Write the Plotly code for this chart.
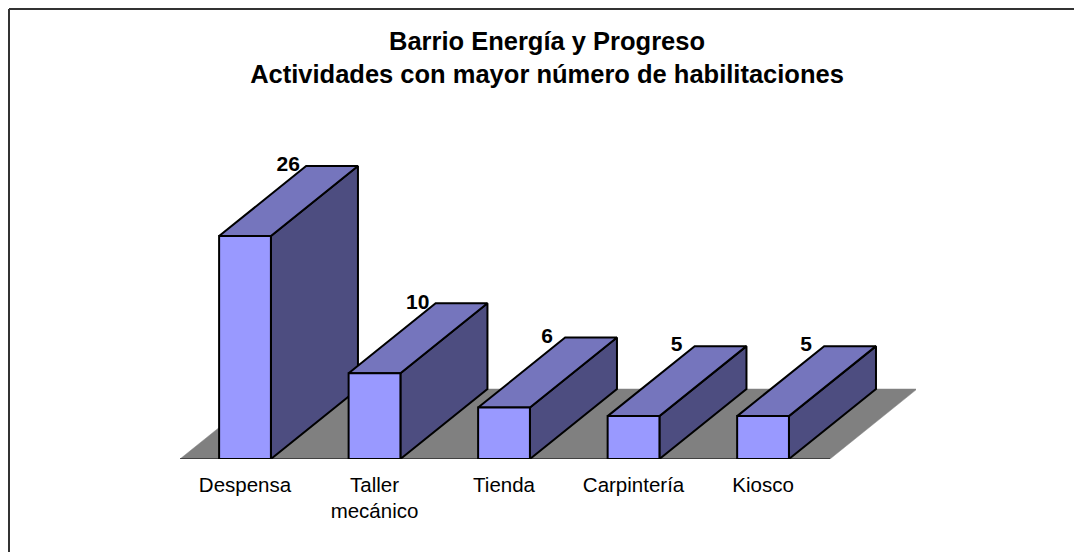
import plotly.graph_objects as go

# ---- data ----
categories = ["Despensa", "Taller<br>mecánico", "Tienda", "Carpintería", "Kiosco"]
values = [26, 10, 6, 5, 5]
title_lines = ["Barrio Energía y Progreso", "Actividades con mayor número de habilitaciones"]

# ---- styling / projection ----
FRONT, TOP, SIDE, FLOOR = "#9999FF", "#7575BD", "#4D4D80", "#808080"
FONT = "Liberation Sans"
W, H = 1074, 552
L, R, T, B = 180, 158, 9, 93
X_RANGE = [-0.502, 5.181]
Y_RANGE = [0, 52.47]
HALF = 0.2           # half bar width in category units
DX, DY = 0.672, 8.16 # oblique depth in axis units
LABEL_SHIFT = 0.139


def poly(xs, ys, fill, line="black", width=2):
    return go.Scatter(
        x=xs + xs[:1], y=ys + ys[:1], mode="lines", fill="toself", fillcolor=fill,
        line=dict(color=line, width=width), hoverinfo="skip", showlegend=False,
        cliponaxis=False,
    )


fig = go.Figure()

# floor
fx0, fx1 = X_RANGE[0], 4.517
fig.add_trace(poly([fx0, fx1, fx1 + DX, fx0 + DX], [0, 0, DY, DY], FLOOR, line=FLOOR, width=0.5))
fig.add_trace(go.Scatter(x=[fx0, fx1], y=[0, 0], mode="lines", line=dict(color="black", width=1),
                         hoverinfo="skip", showlegend=False, cliponaxis=False))

# bars, left to right so each one overlaps the previous
for i, v in enumerate(values):
    x0, x1 = i - HALF, i + HALF
    fig.add_trace(poly([x1, x1 + DX, x1 + DX, x1], [0, DY, v + DY, v], SIDE))
    fig.add_trace(poly([x0, x1, x1 + DX, x0 + DX], [v, v, v + DY, v + DY], TOP))
    fig.add_trace(poly([x0, x1, x1, x0], [0, 0, v, v], FRONT))

# value labels
fig.add_trace(go.Scatter(
    x=[i - HALF + DX - LABEL_SHIFT for i in range(len(values))],
    y=[v + DY for v in values],
    mode="text", text=[str(v) for v in values], textposition="middle center",
    textfont=dict(family=FONT, size=21, color="black", weight="bold"),
    hoverinfo="skip", showlegend=False, cliponaxis=False,
))

fx = lambda px: (px - L) / (W - L - R)
fy = lambda py: 1 - (py - T) / (H - T - B)

fig.update_layout(
    width=W, height=H, margin=dict(l=L, r=R, t=T, b=B, autoexpand=False),
    paper_bgcolor="white", plot_bgcolor="white", showlegend=False,
    font=dict(family=FONT, color="black"),
    title=dict(
        text="<br>".join(title_lines), x=547 / W, xanchor="center", xref="container",
        y=1 - 50 / H, yanchor="top", yref="container", pad=dict(t=0, b=0),
        font=dict(family=FONT, size=25.5, color="black", weight="bold"),
    ),
    xaxis=dict(
        range=X_RANGE, showgrid=False, zeroline=False, showline=False, fixedrange=True,
        tickmode="array", tickvals=list(range(len(categories))), ticktext=categories,
        ticks="outside", ticklen=7, tickcolor="rgba(0,0,0,0)", tickangle=0,
        tickfont=dict(family=FONT, size=20.5, color="black"),
    ),
    yaxis=dict(range=Y_RANGE, visible=False, fixedrange=True),
    shapes=[
        dict(type="line", xref="paper", yref="paper", x0=fx(9), x1=fx(9), y0=fy(9), y1=fy(H),
             line=dict(color="#333333", width=2)),
        dict(type="line", xref="paper", yref="paper", x0=fx(9), x1=fx(W), y0=fy(9), y1=fy(9),
             line=dict(color="#333333", width=2)),
    ],
)

fig.write_html(
    "out.html",
    config=dict(displayModeBar=False),
    post_script="document.body.style.margin='0';document.body.style.overflow='hidden';",
)
